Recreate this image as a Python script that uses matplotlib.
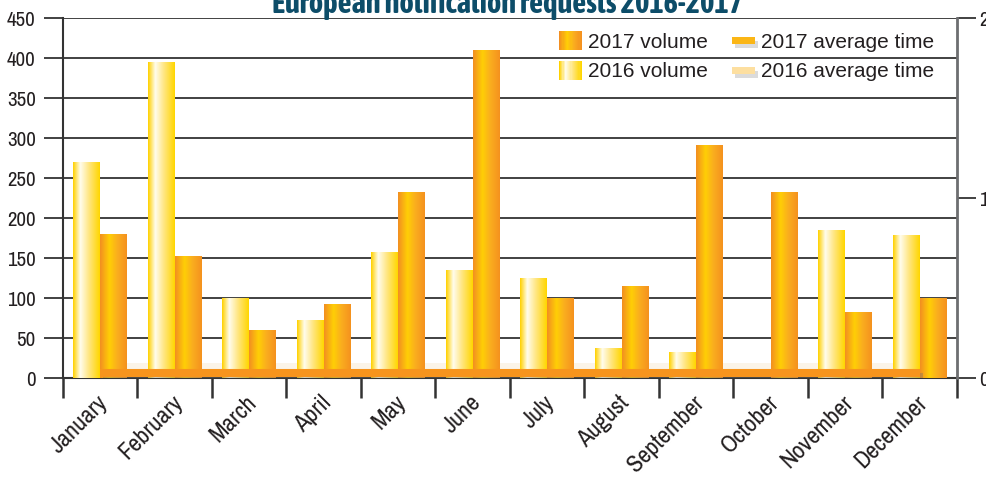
import matplotlib
matplotlib.use("Agg")
import matplotlib.pyplot as plt
import matplotlib.patheffects as pe
import matplotlib.transforms as mtransforms
import numpy as np
from matplotlib.legend_handler import HandlerBase
from matplotlib.patches import Rectangle

months = ["January", "February", "March", "April", "May", "June", "July",
          "August", "September", "October", "November", "December"]
volume_2016 = [270, 394, 100, 72, 157, 134, 124, 37, 32, 0, 185, 178]
volume_2017 = [179, 152, 60, 92, 232, 410, 100, 114, 291, 232, 82, 100]
avg_time_2017 = [0.028] * 12
avg_time_2016 = [0.067] * 12

left_ticks = list(range(0, 451, 50))
right_ticks = [0, 1, 2]

NARROW = ["Archivo Narrow", "Barlow Condensed", "DejaVu Sans"]
TITLE_FONT = ["Asap Condensed", "Barlow Condensed", "DejaVu Sans"]
PLAIN = ["Liberation Sans", "DejaVu Sans"]

# horizontal gradient stops (position, rgb)
stops_2016 = [(0.0, (1.0, 0.82, 0.0)), (0.27, (1.0, 0.99, 0.93)),
              (0.6, (1.0, 0.90, 0.50)), (1.0, (1.0, 0.84, 0.0))]
stops_2017 = [(0.0, (0.95, 0.56, 0.13)), (0.35, (1.0, 0.81, 0.02)),
              (0.65, (0.98, 0.68, 0.12)), (1.0, (0.96, 0.57, 0.12))]


def gradient(stops, n=64):
    pos = np.linspace(0, 1, n)
    p = [s[0] for s in stops]
    rgb = np.stack([np.interp(pos, p, [s[1][c] for s in stops]) for c in range(3)], axis=-1)
    return rgb[np.newaxis, :, :]


class GradientHandler(HandlerBase):
    def __init__(self, stops):
        super().__init__()
        self.stops = stops

    def create_artists(self, legend, orig_handle, xdescent, ydescent,
                       width, height, fontsize, trans):
        rgb = gradient(self.stops, 20)[0]
        w = width / len(rgb)
        arts = []
        for i, c in enumerate(rgb):
            arts.append(Rectangle((-xdescent + i * w, -ydescent), w * 1.05, height,
                                  facecolor=c, edgecolor="none", transform=trans))
        return arts


class BarLineHandler(HandlerBase):
    def __init__(self, color):
        super().__init__()
        self.color = color

    def create_artists(self, legend, orig_handle, xdescent, ydescent,
                       width, height, fontsize, trans):
        h = height * 0.38
        y0 = -ydescent + (height - h) / 2
        shadow = Rectangle((-xdescent + 2, y0 - 3), width, h, facecolor="#9a9a9a",
                           alpha=0.35, edgecolor="none", transform=trans)
        bar = Rectangle((-xdescent, y0), width, h, facecolor=self.color,
                        edgecolor="none", transform=trans)
        return [shadow, bar]


fig = plt.figure(figsize=(9.87, 4.78), dpi=100)
ax = fig.add_axes([63 / 987, 1 - 378 / 478, (957 - 63) / 987, 360 / 478])
ax2 = ax.twinx()

x = np.arange(len(months))
bw = 0.36
bars16 = ax.bar(x - bw / 2, volume_2016, bw, facecolor="none", edgecolor="none")
bars17 = ax.bar(x + bw / 2, volume_2017, bw, facecolor="none", edgecolor="none")

for bars, stops in [(bars16, stops_2016), (bars17, stops_2017)]:
    img = gradient(stops)
    for b in bars:
        if b.get_height() <= 0:
            continue
        x0 = b.get_x()
        ax.imshow(img, extent=(x0, x0 + b.get_width(), 0, b.get_height()),
                  aspect="auto", interpolation="bilinear", zorder=3)

# average time lines, drawn in ax using the right-axis scale
ax.plot([x[0], x[-1]], [avg_time_2016[0], avg_time_2016[-1]], transform=ax2.transData,
        color="#fbf4e8", lw=4.3, solid_capstyle="butt", zorder=2)
ax.plot(x, avg_time_2017, transform=ax2.transData, color="#f7941d", lw=5.8,
        solid_capstyle="butt", zorder=5,
        path_effects=[pe.SimpleLineShadow(offset=(2, -3), shadow_color="#707070", alpha=0.35),
                      pe.Normal()])

ax.set_xlim(-0.5, 11.5)
ax.set_ylim(0, 450)
ax2.set_ylim(0, 2)

ax.set_yticks(left_ticks)
ax.set_yticklabels([str(v) for v in left_ticks], family=NARROW, fontsize=15, color="#231f20")
ax.tick_params(axis="y", direction="out", length=13.7, width=1.3, color="#333333", pad=6)
ax.yaxis.grid(True, color="#333333", lw=1.3)
ax.set_axisbelow(True)

ax.set_xticks(x)
ax.set_xticklabels(months, rotation=45, ha="right", va="top", rotation_mode="anchor",
                   family=NARROW, fontsize=17.5, color="#231f20")
ax.set_xticks(np.arange(-0.5, 12, 1), minor=True)
ax.tick_params(axis="x", which="major", length=0, pad=10)
ax.tick_params(axis="x", which="minor", direction="out", length=14.4, width=1.8, color="#333333")
offset = mtransforms.ScaledTranslation(-3 / 100, 0, fig.dpi_scale_trans)
for lab in ax.get_xticklabels():
    lab.set_transform(lab.get_transform() + offset)

ax2.set_yticks(right_ticks)
ax2.set_yticklabels([str(v) for v in right_ticks], family=NARROW, fontsize=15, color="#231f20")
ax2.tick_params(axis="y", direction="out", length=13.7, width=1.3, color="#333333", pad=2)

for a in (ax, ax2):
    a.spines["top"].set_visible(False)
ax.spines["left"].set_color("#333333")
ax.spines["left"].set_linewidth(1.5)
ax.spines["bottom"].set_color("#333333")
ax.spines["bottom"].set_linewidth(1.5)
ax.spines["right"].set_visible(False)
ax2.spines["left"].set_visible(False)
ax2.spines["bottom"].set_visible(False)
ax2.spines["right"].set_color("#6d6e70")
ax2.spines["right"].set_linewidth(2)

handles = [Rectangle((0, 0), 1, 1), Rectangle((0, 0), 1, 1),
           Rectangle((0, 0), 1, 1), Rectangle((0, 0), 1, 1)]
labels = ["2017 volume", "2016 volume", "2017 average time", "2016 average time"]
hmap = {handles[0]: GradientHandler(stops_2017), handles[1]: GradientHandler(stops_2016),
        handles[2]: BarLineHandler("#fbb616"), handles[3]: BarLineHandler("#fddfa0")}
leg = ax.legend(handles, labels, handler_map=hmap, ncol=2, loc="upper left",
                bbox_to_anchor=(559 / 987, 1 - 31 / 478), bbox_transform=fig.transFigure,
                frameon=False, borderpad=0, borderaxespad=0,
                prop={"family": PLAIN, "size": 15}, handlelength=1.1, handleheight=1.05,
                handletextpad=0.3, columnspacing=1.15, labelspacing=0.42)
for t in leg.get_texts():
    t.set_color("#231f20")
leg.set_zorder(10)

fig.text(507 / 987, 1 - 13 / 478, "European notification requests 2016-2017",
         ha="center", va="baseline", family=TITLE_FONT, fontweight="bold",
         fontsize=22, color="#0d4d69")

fig.savefig("out.png", dpi=100)
